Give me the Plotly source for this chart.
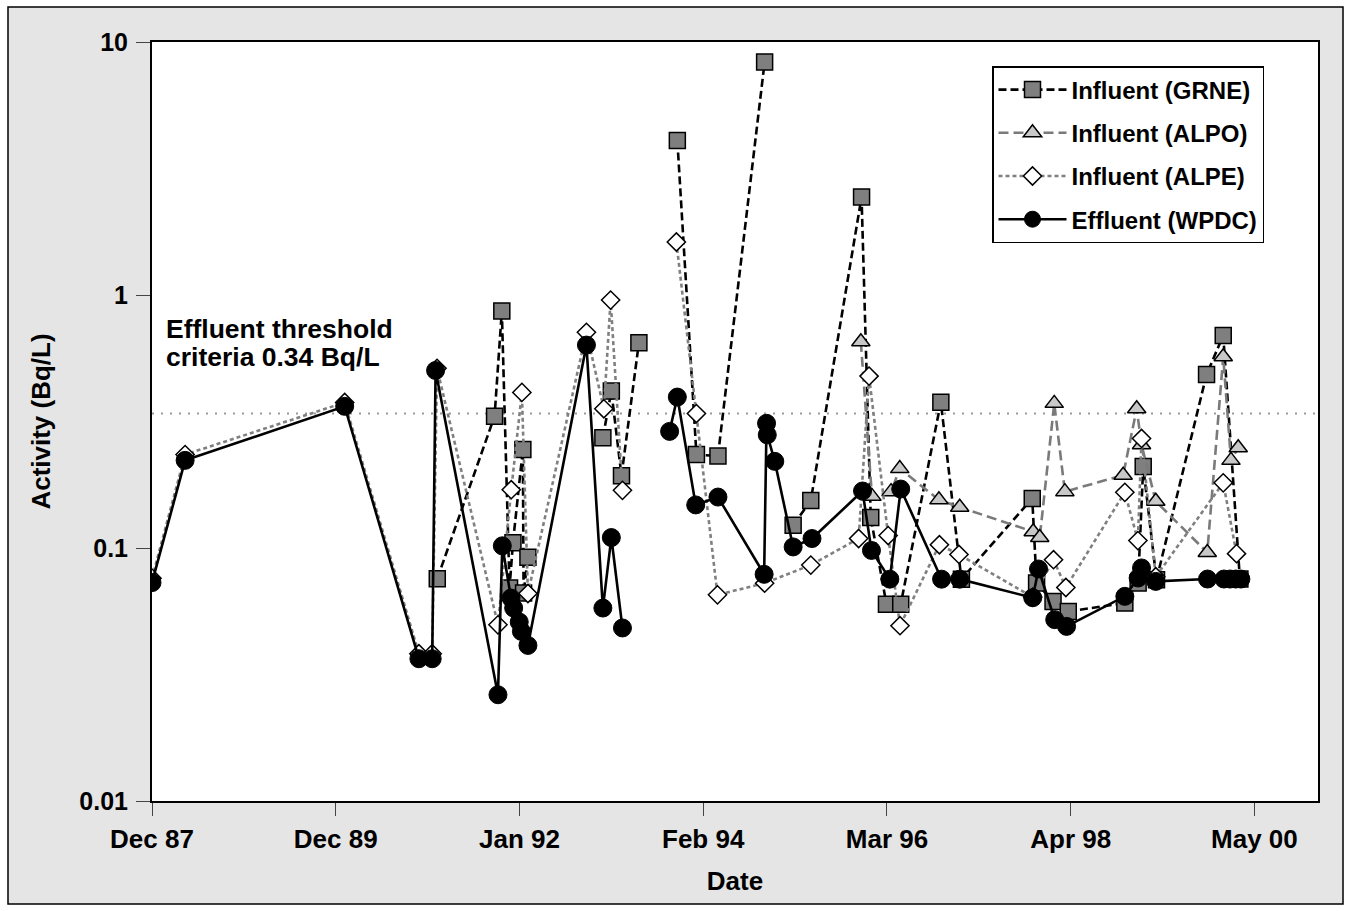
import plotly.graph_objects as go

# ---------------- data ----------------
tick_dates = ["1987-12-01", "1989-12-30", "1992-01-29", "1994-02-27",
              "1996-03-28", "1998-04-27", "2000-05-26"]
tick_labels = ["Dec 87", "Dec 89", "Jan 92", "Feb 94", "Mar 96", "Apr 98", "May 00"]
y_ticks = [0.01, 0.1, 1, 10]
y_tick_labels = ["0.01", "0.1", "1", "10"]

threshold = 0.34
threshold_dates = ["1987-12-01", "2001-02-13"]

grne_dates = ["1991-02-23", "1991-10-18", "1991-11-17", "1991-12-19", "1992-01-02",
              "1992-02-12", "1992-02-15", "1992-03-04", None,
              "1993-01-08", "1993-02-12", "1993-03-26", "1993-06-06", None,
              "1993-11-12", "1994-01-30", "1994-04-29", "1994-11-08", None,
              "1995-03-06", "1995-05-18", "1995-12-14", "1996-01-21", "1996-03-26",
              "1996-05-24", "1996-11-06", "1997-01-30", "1997-11-19", "1997-12-07",
              "1998-02-13", "1998-04-17", "1998-12-07", "1999-01-31", "1999-02-21",
              "1999-04-17", "1999-11-10", "2000-01-18", "2000-03-27"]
grne_vals = [0.0756, 0.332, 0.864, 0.0695, 0.105,
             0.245, 0.0664, 0.092, None,
             0.273, 0.417, 0.193, 0.648, None,
             4.08, 0.234, 0.231, 8.33, None,
             0.123, 0.154, 2.44, 0.132, 0.060,
             0.060, 0.377, 0.0753, 0.157, 0.0727,
             0.0615, 0.0561, 0.0606, 0.0727, 0.210,
             0.0749, 0.485, 0.692, 0.0754]

alpo_dates = ["1995-12-11", "1996-01-26", "1996-04-14", "1996-05-20", "1996-10-29",
              "1997-01-23", "1997-11-23", "1997-12-20", "1998-02-18", "1998-04-03",
              "1998-11-30", "1999-01-25", "1999-02-14", "1999-04-14", "1999-11-13",
              "2000-01-18", "2000-02-19", "2000-03-20"]
alpo_vals = [0.653, 0.160, 0.167, 0.206, 0.155,
             0.145, 0.116, 0.110, 0.373, 0.167,
             0.194, 0.355, 0.256, 0.153, 0.096,
             0.570, 0.222, 0.249]

alpe_dates = ["1987-12-01", "1988-04-16", "1990-02-05", "1990-12-09", "1991-02-02",
              "1991-02-22", "1991-11-01", "1991-12-26", "1992-02-08", "1992-03-04",
              "1992-11-01", "1993-01-12", "1993-02-09", "1993-03-30", None,
              "1993-11-08", "1994-01-30", "1994-04-27", "1994-11-08", "1995-05-18",
              "1995-12-02", "1996-01-14", "1996-04-02", "1996-05-21", "1996-10-31",
              "1997-01-20", "1997-11-21", "1998-02-15", "1998-04-07", "1998-12-07",
              "1999-01-30", "1999-02-14", "1999-04-14", "2000-01-18", "2000-03-13"]
alpe_vals = [0.076, 0.234, 0.376, 0.0382, 0.0382,
             0.513, 0.0497, 0.170, 0.412, 0.0661,
             0.712, 0.355, 0.955, 0.169, None,
             1.62, 0.340, 0.0653, 0.0726, 0.0856,
             0.109, 0.478, 0.112, 0.0493, 0.103,
             0.0943, 0.064, 0.0899, 0.0698, 0.166,
             0.107, 0.271, 0.077, 0.181, 0.095]

wpdc_dates = ["1987-12-01", "1988-04-16", "1990-02-05", "1990-12-09", "1991-02-02",
              "1991-02-16", "1991-11-01", "1991-11-19", "1991-12-25", "1992-01-05",
              "1992-01-28", "1992-02-06", "1992-03-04", "1992-11-01", "1993-01-08",
              "1993-02-12", "1993-03-30", None,
              "1993-10-11", "1993-11-12", "1994-01-27", "1994-04-29", "1994-11-06",
              "1994-11-16", "1994-11-19", "1994-12-20", "1995-03-06", "1995-05-23",
              "1995-12-18", "1996-01-24", "1996-04-09", "1996-05-24", "1996-11-09",
              "1997-01-23", "1997-11-21", "1997-12-15", "1998-02-20", "1998-04-10",
              "1998-12-07", "1999-01-31", "1999-02-14", "1999-04-14", "1999-11-14",
              "2000-01-21", "2000-02-15", "2000-03-10", "2000-03-31"]
wpdc_vals = [0.073, 0.222, 0.363, 0.0365, 0.0365,
             0.503, 0.0263, 0.102, 0.0634, 0.0579,
             0.051, 0.0468, 0.0412, 0.634, 0.0579,
             0.110, 0.0483, None,
             0.289, 0.395, 0.148, 0.159, 0.0787,
             0.311, 0.280, 0.220, 0.101, 0.109,
             0.168, 0.0978, 0.0753, 0.171, 0.0753,
             0.0753, 0.0636, 0.0826, 0.0521, 0.049,
             0.0644, 0.0761, 0.0834, 0.0738, 0.0754,
             0.0754, 0.0754, 0.0754, 0.0754]

# ---------------- layout geometry (pixels) ----------------
W, H = 1351, 911
L, R, T, B = 152, 33, 42, 110
PW, PH = W - L - R, H - T - B


def px_x(px):
    return (px - L) / PW


def px_y(py):
    return (H - B - py) / PH


FONT = "Liberation Sans, Arial, Helvetica, sans-serif"

fig = go.Figure()

# threshold line
fig.add_trace(go.Scatter(
    x=threshold_dates, y=[threshold, threshold], mode="lines",
    line=dict(color="#9a9a9a", width=2, dash="2px,7px"),
    showlegend=False, hoverinfo="skip"))

fig.add_trace(go.Scatter(
    x=grne_dates, y=grne_vals, name="Influent (GRNE)", mode="lines+markers",
    line=dict(color="black", width=2.6, dash="8px,4px"),
    marker=dict(symbol="square", size=16, color="#7f7f7f",
                line=dict(color="black", width=1.5)),
    legendgroup="g1"))

fig.add_trace(go.Scatter(
    x=alpo_dates, y=alpo_vals, name="Influent (ALPO)", mode="lines+markers",
    line=dict(color="#7a7a7a", width=2.6, dash="10px,5px"),
    marker=dict(symbol="triangle-up", size=16, color="#c8c8c8",
                line=dict(color="black", width=1.5)),
    legendgroup="g2"))

fig.add_trace(go.Scatter(
    x=alpe_dates, y=alpe_vals, name="Influent (ALPE)", mode="lines+markers",
    line=dict(color="#808080", width=2.6, dash="4px,3px"),
    marker=dict(symbol="diamond", size=14, color="white",
                line=dict(color="black", width=1.5)),
    legendgroup="g3"))

fig.add_trace(go.Scatter(
    x=wpdc_dates, y=wpdc_vals, name="Effluent (WPDC)", mode="lines+markers",
    line=dict(color="black", width=2.6),
    marker=dict(symbol="circle", size=18, color="black",
                line=dict(color="black", width=1)),
    legendgroup="g4"))

fig.update_layout(
    width=W, height=H,
    margin=dict(l=L, r=R, t=T, b=B, autoexpand=False),
    paper_bgcolor="white", plot_bgcolor="white",
    font=dict(family=FONT, color="black", weight="bold"),
    showlegend=True,
    legend=dict(x=px_x(992), y=px_y(66), xanchor="left", yanchor="top",
                bgcolor="white", bordercolor="black", borderwidth=1.5,
                font=dict(family=FONT, size=24, color="black", weight="bold"),
                traceorder="grouped", tracegroupgap=9, itemwidth=68),
    shapes=[
        dict(type="rect", xref="paper", yref="paper",
             x0=px_x(8), x1=px_x(1343), y0=px_y(904), y1=px_y(7),
             fillcolor="#e5e5e5", line=dict(color="black", width=1.5), layer="below"),
        dict(type="rect", xref="paper", yref="paper",
             x0=0, x1=1, y0=0, y1=1,
             fillcolor="white", line=dict(width=0), layer="below"),
    ],
    annotations=[
        dict(text="Effluent threshold", xref="paper", yref="paper",
             x=px_x(164), y=px_y(329), xanchor="left", yanchor="middle",
             showarrow=False, font=dict(family=FONT, size=26.5, color="black", weight="bold")),
        dict(text="criteria 0.34 Bq/L", xref="paper", yref="paper",
             x=px_x(164), y=px_y(357), xanchor="left", yanchor="middle",
             showarrow=False, font=dict(family=FONT, size=26.5, color="black", weight="bold")),
    ],
)

fig.update_xaxes(
    type="date", range=["1987-12-01", "2001-02-13"],
    tickmode="array", tickvals=tick_dates, ticktext=tick_labels,
    ticks="outside", ticklen=13, tickwidth=1, tickcolor="#444",
    ticklabelstandoff=1,
    tickfont=dict(family=FONT, size=26, color="black", weight="bold"),
    showline=True, linecolor="black", linewidth=2, mirror=True,
    showgrid=False, zeroline=False,
    title=dict(text="Date", standoff=19,
               font=dict(family=FONT, size=26, color="black", weight="bold")),
)

fig.update_yaxes(
    type="log", range=[-2, 1],
    tickmode="array", tickvals=y_ticks, ticktext=y_tick_labels,
    ticks="outside", ticklen=14, tickwidth=1, tickcolor="#444",
    ticklabelstandoff=3,
    tickfont=dict(family=FONT, size=25, color="black", weight="bold"),
    showline=True, linecolor="black", linewidth=2, mirror=True,
    showgrid=False, zeroline=False,
    title=dict(text="Activity (Bq/L)", standoff=21,
               font=dict(family=FONT, size=26, color="black", weight="bold")),
)

fig.write_html("out.html")
